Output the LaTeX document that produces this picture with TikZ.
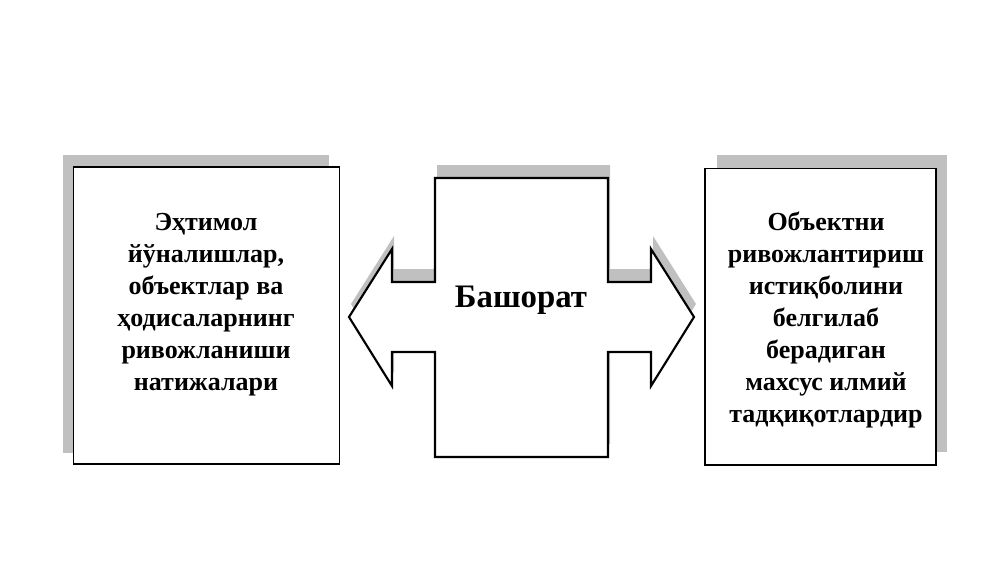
\documentclass[tikz,border=0pt]{standalone}
\usepackage{fontspec}
\setmainfont{Liberation Serif}
\definecolor{shadowgray}{RGB}{192,192,192}
\tikzset{
  boxframe/.style={draw=black, line width=0.9pt, fill=white, inner sep=0pt},
  boxtext/.style={align=center, font=\bfseries\fontsize{19.5}{24}\selectfont, inner sep=0pt},
  shadowfill/.style={fill=shadowgray, draw=none},
  bigarrow/.style={draw=black, line width=1.6pt, fill=white, line join=miter},
}
\begin{document}
\begin{tikzpicture}[x=0.75pt,y=-0.75pt]
\useasboundingbox (0,0) rectangle (1000,562);
% left box
\fill[shadowfill] (63,155) rectangle (329,453);
\node[boxframe, minimum width=199.5pt, minimum height=222.75pt] (L) at (206.3,315.5) {};
\node[boxtext] (Lt) at (206,305) {Эҳтимол\\йўналишлар,\\объектлар ва\\ҳодисаларнинг\\ривожланиши\\натижалари};
% right box
\fill[shadowfill] (717,155) rectangle (947,452);
\node[boxframe, minimum width=173.25pt, minimum height=222.5pt] (R) at (820.5,316.7) {};
\node[boxtext] (Rt) at (826,320) {Объектни\\ривожлантириш\\истиқболини\\белгилаб\\берадиган\\махсус илмий\\тадқиқотлардир};
% central double arrow
\begin{scope}[shift={(2,-13)}]
\fill[shadowfill] (435,178) -- (608,178) -- (608,282) -- (651,282) -- (651,249) -- (694,317)
  -- (651,386) -- (651,352) -- (608,352) -- (608,457) -- (435,457) -- (435,352) -- (392,352)
  -- (392,386) -- (349,317) -- (392,249) -- (392,282) -- (435,282) -- cycle;
\end{scope}
\draw[bigarrow] (435,178) -- (608,178) -- (608,282) -- (651,282) -- (651,249) -- (694,317)
  -- (651,386) -- (651,352) -- (608,352) -- (608,457) -- (435,457) -- (435,352) -- (392,352)
  -- (392,386) -- (349,317) -- (392,249) -- (392,282) -- (435,282) -- cycle;
\node[font=\bfseries\fontsize{24.6}{28}\selectfont, inner sep=0pt] (C) at (521,300) {Башорат};
\end{tikzpicture}
\end{document}
